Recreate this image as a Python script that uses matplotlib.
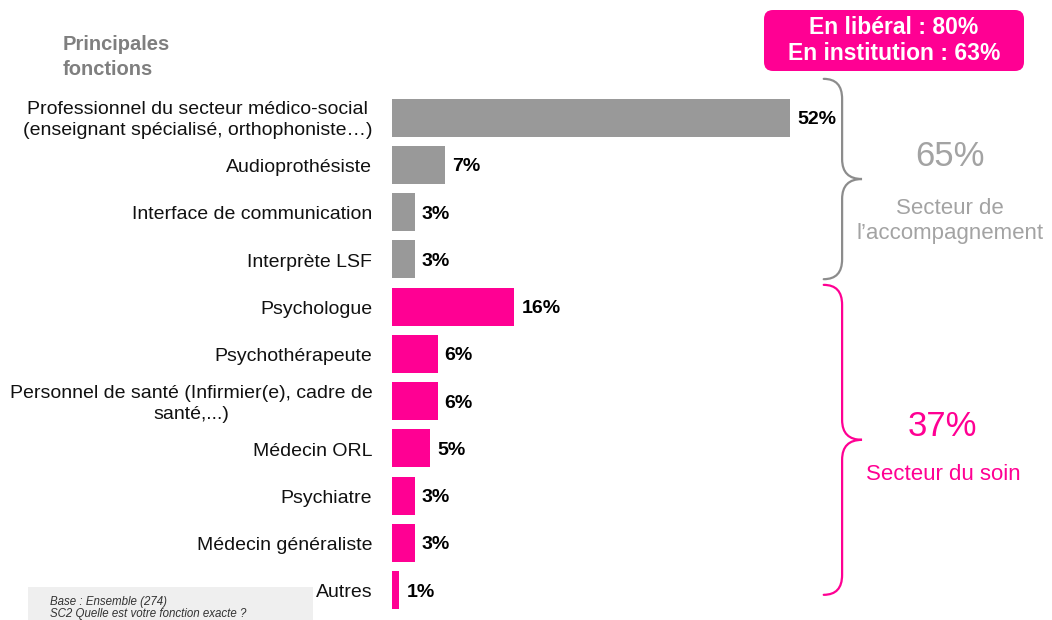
import matplotlib
matplotlib.use("Agg")
import matplotlib.pyplot as plt
from matplotlib.path import Path
from matplotlib.patches import PathPatch, FancyBboxPatch, Rectangle

plt.rcParams['font.family'] = ['Liberation Sans', 'DejaVu Sans']

# ---- data -------------------------------------------------------------
categories = [
    "Professionnel du secteur médico-social\n(enseignant spécialisé, orthophoniste…)",
    "Audioprothésiste",
    "Interface de communication",
    "Interprète LSF",
    "Psychologue",
    "Psychothérapeute",
    "Personnel de santé (Infirmier(e), cadre de\nsanté,...)",
    "Médecin ORL",
    "Psychiatre",
    "Médecin généraliste",
    "Autres",
]
values = [52, 7, 3, 3, 16, 6, 6, 5, 3, 3, 1]
sector_of_row = [0, 0, 0, 0, 1, 1, 1, 1, 1, 1, 1]

sector_names = ["Secteur de\nl’accompagnement", "Secteur du soin"]
sector_shares = [65, 37]

cadre_labels = ["En libéral", "En institution"]
cadre_values = [80, 63]

base_note = ["Base : Ensemble (274)", "SC2 Quelle est votre fonction exacte ?"]

# ---- style ------------------------------------------------------------
GRAY = "#999999"
PINK = "#ff0093"
sector_bar_colors = [GRAY, PINK]
sector_brace_colors = ["#8c8c8c", PINK]
sector_text_colors = ["#a3a3a3", PINK]

W, H = 1052, 620
fig = plt.figure(figsize=(W / 100, H / 100), dpi=100)

px_per_pct = 7.66
x_origin = 391.7
row0, step = 117.6, 47.25
n = len(values)
top_px = row0 - step / 2
bot_px = row0 + (n - 1) * step + step / 2
ax = fig.add_axes([x_origin / W, 1 - bot_px / H, (W - x_origin) / W, (bot_px - top_px) / H])
ax.set_xlim(0, (W - x_origin) / px_per_pct)
ax.set_ylim(n - 0.5, -0.5)

rows = list(range(n))
colors = [sector_bar_colors[s] for s in sector_of_row]
ax.barh(rows, values, height=0.8, color=colors)

for r, v in zip(rows, values):
    ax.text(v + 7 / px_per_pct, r, f"{v}%", va="center_baseline", ha="left",
            fontsize=14, fontweight="bold", color="black")

# category labels, right-aligned against the bars
ax.set_yticks([])
ax.set_xticks([])
for r, lab in zip(rows, categories):
    ax.annotate(lab, xy=(0, r), xycoords=("axes fraction", "data"),
                xytext=(-14, -2), textcoords="offset points",
                ha="right", va="center", multialignment="center",
                linespacing=1.3, fontsize=14, color="#111111",
                annotation_clip=False)
for s in ax.spines.values():
    s.set_visible(False)


def brace(ax, xa, xb, xt, yt, yb, r, color):
    ym = (yt + yb) / 2
    verts = [(xa, yt), (xb, yt), (xb, yt + r),
             (xb, ym - r), (xb, ym), (xt, ym),
             (xb, ym), (xb, ym + r),
             (xb, yb - r), (xb, yb), (xa, yb)]
    codes = [Path.MOVETO, Path.CURVE3, Path.CURVE3,
             Path.LINETO, Path.CURVE3, Path.CURVE3,
             Path.CURVE3, Path.CURVE3,
             Path.LINETO, Path.CURVE3, Path.CURVE3]
    ax.add_patch(PathPatch(Path(verts, codes), fill=False, edgecolor=color,
                           linewidth=1.6, clip_on=False, capstyle="round"))


# brace geometry, x in percent units, y in row units
xa, xb, xt = 56.4, 58.8, 61.4
brace_spans = [(-0.82, 3.42), (3.54, 10.1)]
for k, (yt, yb) in enumerate(brace_spans):
    brace(ax, xa, xb, xt, yt, yb, 0.42, sector_brace_colors[k])


def ftext(x, y, s, **kw):
    fig.text(x / W, 1 - y / H, s, **kw)


# sector totals
share_pos = [(950, 157), (942, 426)]
name_pos = [(950, 221), (943, 475)]
for k in range(2):
    ftext(*share_pos[k], f"{sector_shares[k]}%", ha="center", va="center",
          fontsize=25, color=sector_text_colors[k])
    ftext(*name_pos[k], sector_names[k], ha="center", va="center",
          fontsize=16, color=sector_text_colors[k], linespacing=1.25)

# highlighted box
fig.patches.append(FancyBboxPatch((7.64, (H - 71) / 100), 2.60, 0.61,
                                  boxstyle="round,pad=0,rounding_size=0.09",
                                  transform=fig.dpi_scale_trans,
                                  facecolor=PINK, edgecolor="none"))
for lab, val, y in zip(cadre_labels, cadre_values, [28, 53]):
    ftext(894, y, f"{lab} : {val}%", ha="center", va="center",
          fontsize=16.5, fontweight="bold", color="white")

# column header
ftext(63, 57, "Principales\nfonctions", ha="left", va="center",
      fontsize=14.5, fontweight="bold", color="#7f7f7f", linespacing=1.4)

# base note
fig.patches.append(Rectangle((0.28, 0), 2.85, 0.33, transform=fig.dpi_scale_trans,
                             facecolor="#efefef", edgecolor="none", zorder=0))
for line, y in zip(base_note, [601.7, 614.3]):
    ftext(50, y, line, ha="left", va="center", fontsize=8.3,
          fontstyle="italic", color="#333333")

fig.savefig("out.png", dpi=100)
